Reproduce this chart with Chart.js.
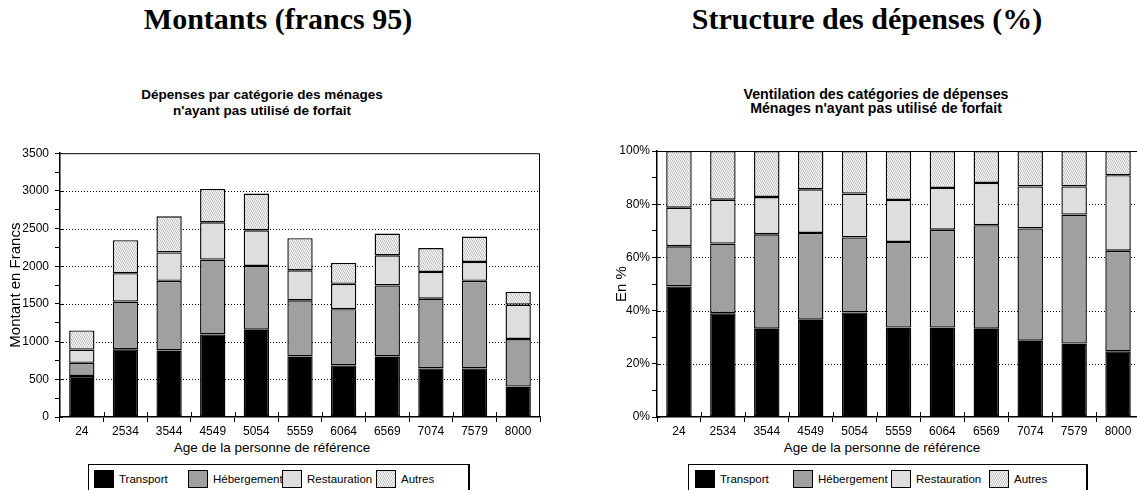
<!DOCTYPE html>
<html>
<head>
<meta charset="utf-8">
<script src="https://cdn.jsdelivr.net/npm/chart.js@4.4.0/dist/chart.umd.min.js"></script>
<style>
  body { margin: 0; width: 1137px; height: 490px; overflow: hidden; background: #fff;
         position: relative; font-family: "Liberation Sans", Arial, sans-serif; color: #000; }
  .big { position: absolute; top: 2px; width: 500px; text-align: center; white-space: nowrap;
         font: bold 30px/34px "Liberation Serif", "Times New Roman", serif; }
  .sub { position: absolute; width: 400px; text-align: center; font-weight: bold; white-space: nowrap; }
  .xt { position: absolute; top: 440px; width: 400px; text-align: center; font-size: 13.5px; line-height: 16px; }
  canvas { position: absolute; }
  .legend { position: absolute; top: 464px; height: 40px; border: 1px solid #000; border-right-width: 2px; box-sizing: border-box; }
  .item { position: absolute; top: 5px; height: 18px; white-space: nowrap; font-size: 11.5px; line-height: 18px; }
  .sw { position: absolute; left: 0; top: 0; width: 20px; height: 18px; border: 1px solid #000; box-sizing: border-box; }
  .item span { position: absolute; left: 25px; top: 0; }
</style>
</head>
<body>
<div class="big" style="left:28px">Montants (francs 95)</div>
<div class="big" style="left:617px">Structure des dépenses (%)</div>

<div class="sub" style="left:62px;top:87px;font-size:13.5px;line-height:15.5px">Dépenses par catégorie des ménages<br>n'ayant pas utilisé de forfait</div>
<div class="sub" style="left:676px;top:88px;font-size:14.2px;line-height:13.5px">Ventilation des catégories de dépenses<br>Ménages n'ayant pas utilisé de forfait</div>

<canvas id="montants" width="560" height="300" style="left:0;top:140px"></canvas>
<canvas id="structure" width="540" height="300" style="left:600px;top:140px"></canvas>

<div class="xt" style="left:72px">Age de la personne de référence</div>
<div class="xt" style="left:682px">Age de la personne de référence</div>

<div class="legend" id="legLeft" style="left:88px;width:382px"></div>
<div class="legend" id="legRight" style="left:688px;width:400px"></div>

<script>
/* ---------- DATA ---------- */

const ages = ["24", "2534", "3544", "4549", "5054", "5559", "6064", "6569", "7074", "7579", "8000"];
const seriesNames = ["Transport", "Hébergement", "Restauration", "Autres"];

// montants en francs 95
const montTransport    = [544, 899, 882, 1096, 1158, 803, 684, 803, 645, 645, 404];
const montHebergement  = [175, 632, 925, 992, 846, 745, 746, 943, 925, 1162, 631];
const montRestauration = [176, 377, 377, 495, 474, 399, 337, 399, 355, 250, 456];
const montAutres       = [254, 438, 478, 443, 487, 426, 277, 289, 316, 338, 171];

// structure en %
const partTransport    = [49.1, 39.0, 33.2, 36.6, 39.3, 33.6, 33.6, 33.2, 28.7, 27.6, 24.7];
const partHebergement  = [15.1, 26.2, 35.5, 32.6, 28.2, 32.2, 36.8, 38.9, 42.2, 48.5, 37.8];
const partRestauration = [14.5, 16.5, 14.0, 16.4, 16.5, 15.8, 15.7, 15.9, 15.8, 10.6, 28.4];
const partAutres       = [21.3, 18.3, 17.3, 14.4, 16.0, 18.4, 13.9, 12.0, 13.3, 13.3, 9.1];

/* ---------- FILLS ---------- */

// fine light dotted pattern for "Autres"
const patCanvas = document.createElement("canvas");
patCanvas.width = 4;
patCanvas.height = 4;
const pctx = patCanvas.getContext("2d");
pctx.fillStyle = "#f2f2f2";
pctx.fillRect(0, 0, 4, 4);
pctx.fillStyle = "#bdbdbd";
[[0, 0], [2, 1], [1, 2], [3, 3]].forEach(([x, y]) => pctx.fillRect(x, y, 1, 1));
pctx.fillStyle = "#d6d6d6";
[[2, 0], [0, 1], [3, 2], [1, 3]].forEach(([x, y]) => pctx.fillRect(x, y, 1, 1));
const autresPattern = pctx.createPattern(patCanvas, "repeat");

const fills = ["#000000", "#a0a0a0", "#dedede", autresPattern];
const swatchCss = ["#000000", "#a0a0a0", "#dedede", `url(${patCanvas.toDataURL()})`];

/* ---------- PLUGINS ---------- */

const framePlugin = {
  id: "frame",
  beforeDatasetsDraw(chart, args, opts) {
    const { ctx, chartArea: a, scales: { y } } = chart;
    ctx.save();
    ctx.strokeStyle = "#000";
    ctx.lineWidth = 1;
    ctx.setLineDash([1, 2]);
    y.ticks.forEach((t) => {
      if (t.value % opts.major !== 0 || t.value === y.min || t.value === y.max) return;
      const py = Math.round(y.getPixelForValue(t.value)) + 0.5;
      ctx.beginPath();
      ctx.moveTo(a.left, py);
      ctx.lineTo(a.right, py);
      ctx.stroke();
    });
    ctx.restore();
  },
  afterDraw(chart, args, opts) {
    const { ctx, chartArea: a, scales: { x, y } } = chart;
    ctx.save();
    ctx.strokeStyle = "#000";
    ctx.lineWidth = 1;
    ctx.beginPath();
    ctx.moveTo(a.left, a.top + 0.5);
    ctx.lineTo(a.right - 0.5, a.top + 0.5);
    ctx.lineTo(a.right - 0.5, a.bottom);
    // inner stubs of the major y ticks
    y.ticks.forEach((t) => {
      if (t.value % opts.major !== 0) return;
      const py = Math.round(y.getPixelForValue(t.value)) + 0.5;
      ctx.moveTo(a.left, py);
      ctx.lineTo(a.left + 3, py);
    });
    // inner stubs of the category separators
    for (let i = 1; i < x.ticks.length; i++) {
      const px = Math.round((x.getPixelForTick(i - 1) + x.getPixelForTick(i)) / 2) + 0.5;
      ctx.moveTo(px, a.bottom);
      ctx.lineTo(px, a.bottom - 5);
    }
    ctx.stroke();
    ctx.restore();
  },
};

/* ---------- CHART BUILDER ---------- */

function makeChart(id, values, cfg) {
  return new Chart(document.getElementById(id), {
    type: "bar",
    data: {
      labels: ages,
      datasets: seriesNames.map((name, i) => ({
        label: name,
        data: values[i],
        backgroundColor: fills[i],
        borderColor: "#000",
        borderWidth: 1.4,
        borderSkipped: false,
        inflateAmount: 0,
        barPercentage: 0.58,
        categoryPercentage: 1.0,
      })),
    },
    options: {
      responsive: false,
      animation: false,
      events: [],
      layout: { padding: { top: 11, right: cfg.padRight, bottom: 0, left: 0 } },
      plugins: {
        legend: { display: false },
        tooltip: { enabled: false },
        frame: { major: cfg.major },
      },
      scales: {
        x: {
          stacked: true,
          grid: { drawOnChartArea: false, tickLength: 5, tickColor: "#000", offset: true },
          border: { color: "#000", width: 1.5 },
          ticks: { color: "#000", font: { family: "Liberation Sans", size: 12 }, padding: 2, maxRotation: 0, autoSkip: false },
          afterFit: (s) => { s.height = 23; },
        },
        y: {
          stacked: true,
          min: 0,
          max: cfg.max,
          grid: { drawOnChartArea: false, tickLength: 5, tickColor: "#000" },
          border: { color: "#000", width: 1.5 },
          ticks: {
            stepSize: cfg.minor,
            autoSkip: false,
            color: "#000",
            padding: cfg.tickPad,
            font: { family: "Liberation Sans", size: 12 },
            callback: (v) => (v % cfg.major === 0 ? cfg.fmt(v) : ""),
          },
          title: {
            display: true,
            text: cfg.yTitle,
            color: "#000",
            font: { family: "Liberation Sans", size: 15 },
            padding: { top: cfg.titlePad, bottom: 0 },
          },
          afterFit: (s) => { s.width = cfg.axisWidth; },
        },
      },
    },
    plugins: [framePlugin],
  });
}

makeChart("montants", [montTransport, montHebergement, montRestauration, montAutres], {
  max: 3500, major: 500, minor: 250, fmt: (v) => v, yTitle: "Montant en Francs",
  axisWidth: 60, padRight: 20, tickPad: 6, titlePad: 7,
});

makeChart("structure", [partTransport, partHebergement, partRestauration, partAutres], {
  max: 100, major: 20, minor: 10, fmt: (v) => v + "%", yTitle: "En %",
  axisWidth: 57, padRight: 0, tickPad: 2, titlePad: 13,
});

/* ---------- LEGENDS ---------- */

function buildLegend(id, firstLeft, spacing) {
  const box = document.getElementById(id);
  seriesNames.forEach((name, i) => {
    const item = document.createElement("div");
    item.className = "item";
    item.style.left = firstLeft + i * spacing + "px";
    const sw = document.createElement("div");
    sw.className = "sw";
    sw.style.background = swatchCss[i];
    const txt = document.createElement("span");
    txt.textContent = name;
    item.appendChild(sw);
    item.appendChild(txt);
    box.appendChild(item);
  });
}

buildLegend("legLeft", 5, 94);
buildLegend("legRight", 6, 98);
</script>
</body>
</html>
